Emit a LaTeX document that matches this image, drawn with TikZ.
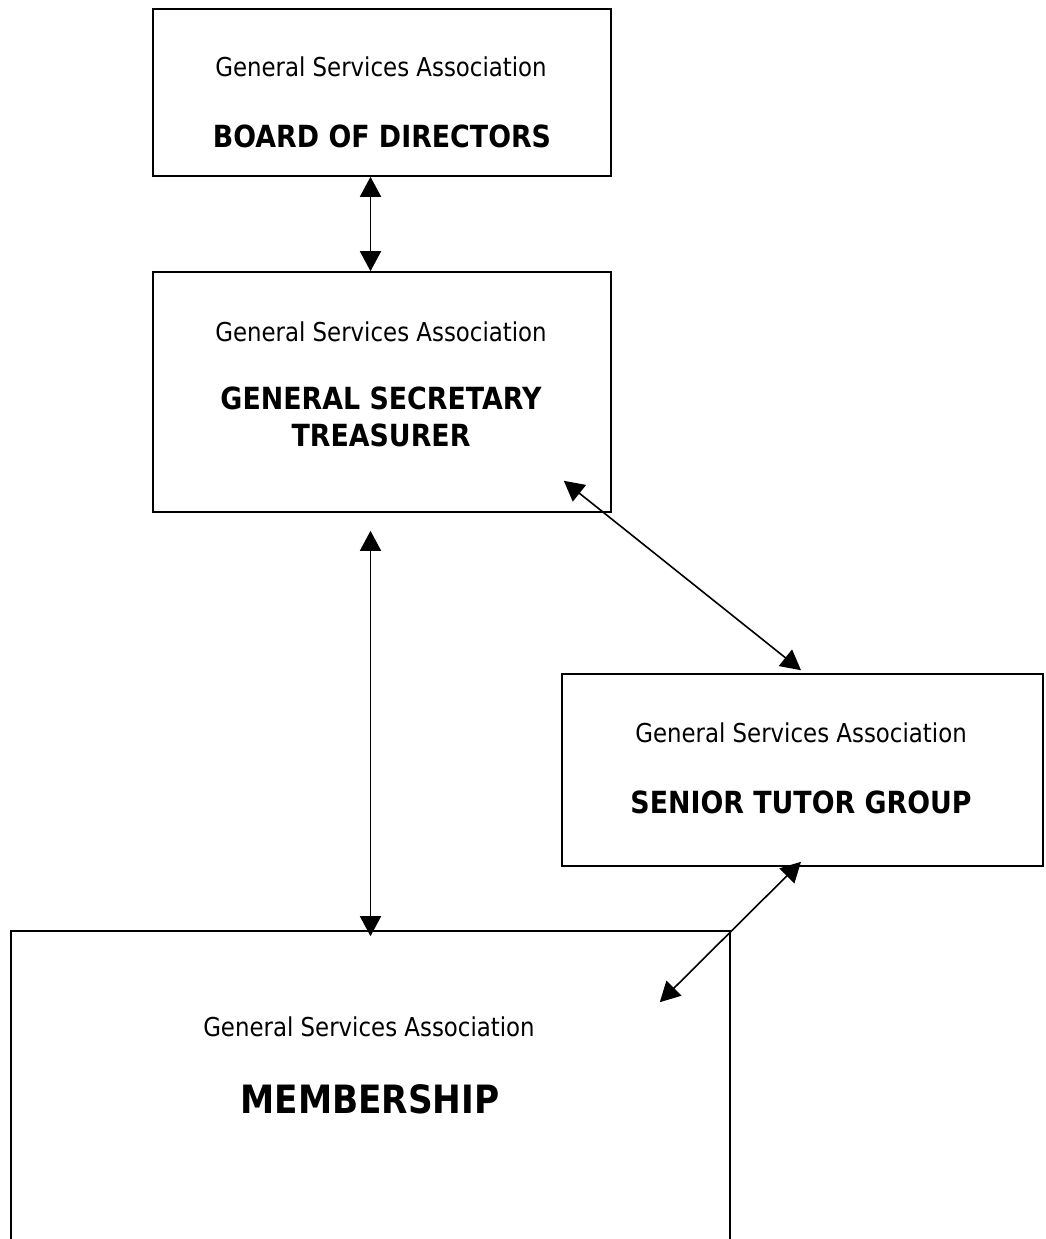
\documentclass[tikz,border=0pt]{standalone}
\usepackage{fontspec}
\setmainfont{DejaVu Sans}[FakeStretch=0.88]
\usetikzlibrary{arrows.meta}
\tikzset{
  box/.style={draw,line width=1.6pt,inner sep=0pt},
  lab/.style={inner sep=0pt,anchor=base,font=\fontsize{26}{31}\selectfont},
  head/.style={inner sep=0pt,anchor=base,font=\fontsize{30.5}{37}\selectfont\bfseries},
  bighead/.style={inner sep=0pt,anchor=base,font=\fontsize{39}{46}\selectfont\bfseries},
  conn/.style={line width=1.6pt,{Triangle[length=20pt,width=21pt]}-{Triangle[length=20pt,width=21pt]}}
}
\begin{document}
\begin{tikzpicture}[x=1pt,y=-1pt]
\clip (0,0) rectangle (1045,1239);
\fill[white] (0,0) rectangle (1045,1239);
% boxes
\node[box,minimum width=458pt,minimum height=167pt] (bd) at (382,92.5) {};
\node[box,minimum width=458pt,minimum height=240pt] (gs) at (382,392) {};
\node[box,minimum width=481pt,minimum height=192pt] (st) at (802.5,770) {};
\node[box,minimum width=719pt,minimum height=369pt] (mb) at (370.5,1115.5) {};
% texts
\node[lab] (bdt) at (381,77) {General Services Association};
\node[head] (bdh) at (382,147) {BOARD OF DIRECTORS};
\node[lab] (gst) at (381,341) {General Services Association};
\node[head] (gsh1) at (381,409) {GENERAL SECRETARY};
\node[head] (gsh2) at (381,446) {TREASURER};
\node[lab] (stt) at (801,742) {General Services Association};
\node[head] (sth) at (801,813) {SENIOR TUTOR GROUP};
\node[lab] (mbt) at (369,1036) {General Services Association};
\node[bighead] (mbh) at (370,1113) {MEMBERSHIP};
% connectors
\draw[conn] ([xshift=-11.5pt]bd.south) -- ([xshift=-11.5pt]gs.north);
\draw[conn] ([xshift=-11.5pt,yshift=-18pt]gs.south) -- ([yshift=-6pt]mb.north);
\draw[conn] ([xshift=-48pt,yshift=32pt]gs.south east) -- ([xshift=-1.5pt,yshift=3pt]st.north);
\draw[conn] ([xshift=-1.5pt,yshift=5pt]st.south) -- ([xshift=-71pt,yshift=-72pt]mb.north east);
\end{tikzpicture}
\end{document}
